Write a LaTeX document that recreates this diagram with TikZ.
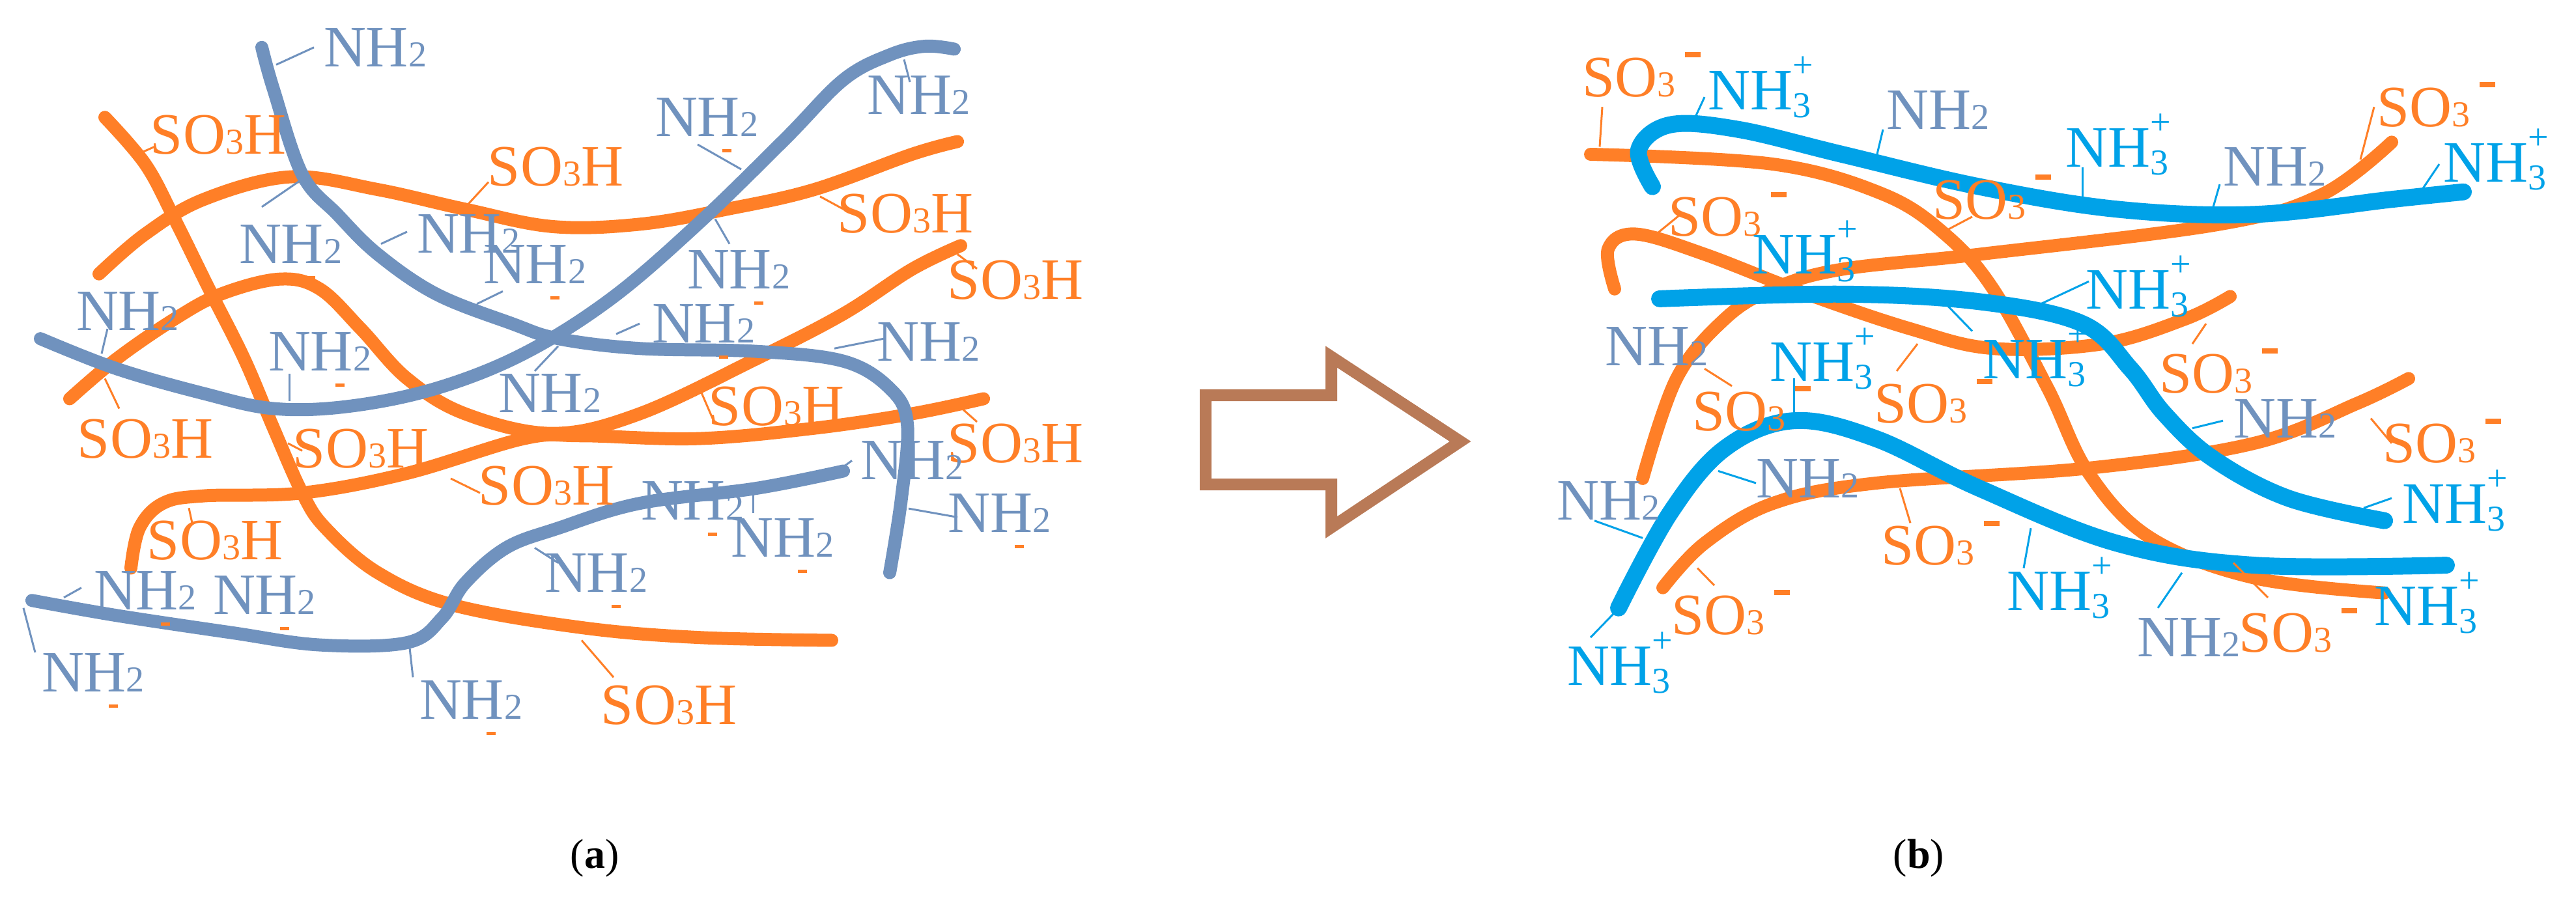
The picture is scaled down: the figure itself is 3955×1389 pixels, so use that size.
\documentclass[tikz,border=0pt]{standalone}
\usepackage{fontspec}
\setmainfont{Liberation Serif}
\definecolor{ora}{RGB}{255,127,39}
\definecolor{gry}{RGB}{112,146,190}
\definecolor{sky}{RGB}{0,162,232}
\definecolor{brn}{RGB}{185,122,87}
\newcommand{\smn}[1]{{\fontsize{56}{56}\selectfont #1}}
\newcommand{\NHtwo}{NH\smn{2}}
\newcommand{\SOH}{SO\smn{3}H}
\newcommand{\SOm}{SO\smn{3}\hspace{14pt}\raisebox{60pt}{\rule{24pt}{8pt}}}
\newcommand{\NHp}{NH\rlap{\raisebox{50pt}{\smn{+}}}\raisebox{-12pt}{\smn{3}}}
\tikzset{
  lbl/.style={inner sep=0pt,font=\fontsize{90}{90}\selectfont},
  og/.style={ora,line width=20pt,line cap=round,line join=round},
  gb/.style={gry,line width=20pt,line cap=round,line join=round},
  sb/.style={sky,line width=26pt,line cap=round,line join=round},
  ld/.style={line width=3pt},
}
\newcommand{\nh}[2]{\node[lbl,text=gry] at (#1,#2) {\NHtwo};}
\newcommand{\nhd}[2]{\node[lbl,text=gry] at (#1,#2) {\NHtwo};\draw[ora,line width=5pt] ($(#1,#2)+(24,58)$) -- ++(14,0);}
\newcommand{\so}[2]{\node[lbl,text=ora] at (#1,#2) {\SOH};}
\newcommand{\som}[2]{\node[lbl,text=ora] at (#1,#2) {\SOm};}
\newcommand{\nhp}[2]{\node[lbl,text=sky] at (#1,#2) {\NHp};}
\usetikzlibrary{calc}
\begin{document}
\begin{tikzpicture}[x=1pt,y=-1pt]
\useasboundingbox (0,0) rectangle (3955,1389);
\begin{scope}[yscale=0.8876]
% ---------- panel (a)
\draw[og] plot[smooth,tension=0.6] coordinates {(161,203)(223,284)(268,379)(321,500)(375,621)(420,741)(464,853)(500,914)(580,991)(696,1047)(893,1086)(1071,1103)(1277,1108)};
\draw[og] plot[smooth,tension=0.6] coordinates {(152,474)(223,405)(313,345)(446,306)(580,328)(714,362)(848,392)(982,388)(1116,362)(1250,328)(1400,267)(1470,245)};
\draw[og] plot[smooth,tension=0.6] coordinates {(107,690)(179,621)(268,552)(339,509)(429,483)(491,500)(554,569)(625,655)(714,716)(848,750)(982,716)(1161,621)(1295,543)(1400,466)(1475,425)};
\draw[og] plot[smooth,tension=0.6] coordinates {(201,983)(214,914)(250,871)(313,858)(464,853)(625,819)(804,759)(893,754)(1071,759)(1250,741)(1400,716)(1510,690)};
\draw[gb] plot[smooth,tension=0.6] coordinates {(402,82)(420,155)(464,302)(518,371)(580,440)(670,509)(786,560)(857,586)(982,603)(1161,608)(1295,625)(1366,672)(1393,733)(1384,862)(1366,991)};
\draw[gb] plot[smooth,tension=0.6] coordinates {(62,586)(179,638)(313,681)(420,707)(536,703)(670,672)(804,612)(938,517)(1071,388)(1205,241)(1295,138)(1366,95)(1420,80)(1465,85)};
\draw[gb] plot[smooth,tension=0.6] coordinates {(49,1039)(179,1065)(357,1095)(491,1116)(625,1112)(679,1069)(714,1009)(777,948)(857,914)(982,871)(1161,845)(1295,815)};
% leaders (a)
\draw[gry,ld] (424,112)--(482,82); \draw[ora,ld] (219,263)--(237,254); \draw[ora,ld] (719,353)--(750,315);
\draw[gry,ld] (1071,250)--(1138,293); \draw[gry,ld] (1388,103)--(1397,142); \draw[ora,ld] (1259,340)--(1295,362);
\draw[gry,ld] (402,358)--(464,310); \draw[gry,ld] (585,422)--(625,401); \draw[gry,ld] (732,526)--(772,504);
\draw[gry,ld] (1098,379)--(1120,422); \draw[gry,ld] (165,569)--(156,612); \draw[ora,ld] (161,655)--(183,707);
\draw[gry,ld] (444,647)--(444,694); \draw[gry,ld] (946,578)--(982,560); \draw[gry,ld] (821,642)--(857,599);
\draw[gry,ld] (1281,603)--(1357,586); \draw[ora,ld] (1076,677)--(1094,724); \draw[ora,ld] (442,767)--(464,780);
\draw[ora,ld] (692,828)--(737,853); \draw[gry,ld] (1156,853)--(1156,888); \draw[gry,ld] (1286,815)--(1308,797);
\draw[ora,ld] (290,879)--(295,905); \draw[gry,ld] (98,1034)--(125,1017); \draw[gry,ld] (821,948)--(857,974);
\draw[gry,ld] (36,1052)--(54,1129); \draw[gry,ld] (629,1121)--(634,1172); \draw[ora,ld] (893,1108)--(942,1172);
\draw[ora,ld] (1470,440)--(1500,465); \draw[ora,ld] (1470,700)--(1500,730); \draw[gry,ld] (1395,880)--(1470,895);
% labels (a)
\nh{576}{82} \so{335}{233} \so{853}{289} \nhd{1085}{203} \nh{1410}{165} \so{1390}{370}
\nhd{446}{422} \nh{719}{405} \nhd{821}{457} \nhd{1134}{466} \nh{196}{539} \so{223}{759}
\nhd{491}{608} \nhd{1080}{560} \nh{844}{681} \nh{1425}{592} \so{1192}{703} \so{554}{776}
\so{1559}{485} \so{1559}{767} \so{839}{841} \nhd{1063}{866} \nhd{1201}{931} \nh{1400}{797}
\nhd{1534}{888} \so{330}{935} \nhd{223}{1022} \nhd{406}{1030} \nhd{915}{991} \nhd{143}{1164}
\nhd{723}{1211} \so{1027}{1220}
% ---------- panel (b)
\draw[og] plot[smooth,tension=0.6] coordinates {(2442,267)(2722,284)(2891,336)(2986,405)(3060,500)(3144,672)(3207,819)(3302,931)(3461,1000)(3661,1026)};
\draw[og] plot[smooth,tension=0.6] coordinates {(3672,246)(3566,336)(3408,388)(3039,440)(2828,466)(2722,500)(2648,552)(2574,655)(2522,828)};
\draw[og] plot[smooth,tension=0.6] coordinates {(2479,500)(2469,431)(2511,405)(2617,440)(2775,509)(2933,569)(3060,603)(3228,595)(3355,552)(3424,513)};
\draw[og] plot[smooth,tension=0.6] coordinates {(2553,1017)(2617,940)(2722,871)(2880,836)(3207,810)(3461,767)(3619,698)(3698,655)};
\draw[sb] plot[smooth,tension=0.6] coordinates {(2537,323)(2516,259)(2564,216)(2669,224)(2828,267)(3039,323)(3250,362)(3461,371)(3672,345)(3782,332)};
\draw[sb] plot[smooth,tension=0.6] coordinates {(2548,517)(2828,509)(3039,522)(3197,560)(3271,638)(3323,716)(3397,793)(3513,862)(3661,901)};
\draw[sb] plot[smooth,tension=0.6] coordinates {(2485,1052)(2564,888)(2648,776)(2754,728)(2880,759)(3039,845)(3250,940)(3461,978)(3756,978)};
% leaders (b)
\draw[ora,ld] (2460,185)--(2456,254); \draw[sky,ld] (2617,168)--(2601,207); \draw[sky,ld] (2891,224)--(2880,276);
\draw[sky,ld] (3197,289)--(3197,341); \draw[ora,ld] (3028,375)--(2991,397); \draw[sky,ld] (3408,319)--(3397,362);
\draw[ora,ld] (3645,185)--(3624,276); \draw[sky,ld] (3745,284)--(3714,336); \draw[ora,ld] (2580,371)--(2543,405);
\draw[sky,ld] (3207,487)--(3133,526); \draw[ora,ld] (2617,638)--(2659,668); \draw[sky,ld] (2754,655)--(2754,716);
\draw[ora,ld] (2944,595)--(2912,642); \draw[sky,ld] (3028,573)--(2991,530); \draw[ora,ld] (3387,560)--(3366,595);
\draw[sky,ld] (3413,728)--(3366,741); \draw[ora,ld] (3640,724)--(3672,767); \draw[sky,ld] (2696,836)--(2638,815);
\draw[sky,ld] (2448,901)--(2522,931); \draw[sky,ld] (3672,862)--(3629,879); \draw[ora,ld] (2917,845)--(2933,905);
\draw[sky,ld] (3118,914)--(3107,983); \draw[ora,ld] (2606,983)--(2632,1013); \draw[sky,ld] (3350,991)--(3313,1052);
\draw[ora,ld] (3429,974)--(3482,1034); \draw[sky,ld] (2442,1103)--(2479,1060);
% labels (b)
\som{2520}{129} \nhp{2701}{151} \nh{2975}{190} \nhp{3250}{250} \som{3058}{341} \nh{3492}{289}
\som{3740}{181} \nhp{3830}{276} \som{2652}{371} \nhp{2769}{435} \nhp{3281}{496} \nh{2543}{599}
\nhp{2796}{621} \som{2968}{694} \nhp{3123}{616} \som{3406}{642} \som{2689}{707} \nh{3508}{724}
\som{3749}{763} \nh{2775}{828} \nh{2469}{866} \nhp{3767}{866} \som{2979}{940} \nhp{3160}{1017}
\som{2657}{1060} \nh{3360}{1103} \som{3528}{1091} \nhp{3724}{1043} \nhp{2485}{1147}
\end{scope}
% ---------- arrow
\draw[brn,line width=18pt,line join=miter] (1851,607)--(2044,607)--(2044,548)--(2242,678)--(2044,810)--(2044,744)--(1851,744)--cycle;
% captions
\node[inner sep=0pt,font=\fontsize{64}{64}\selectfont] at (913,1318) {(\textbf{a})};
\node[inner sep=0pt,font=\fontsize{64}{64}\selectfont] at (2946,1318) {(\textbf{b})};
\end{tikzpicture}
\end{document}
